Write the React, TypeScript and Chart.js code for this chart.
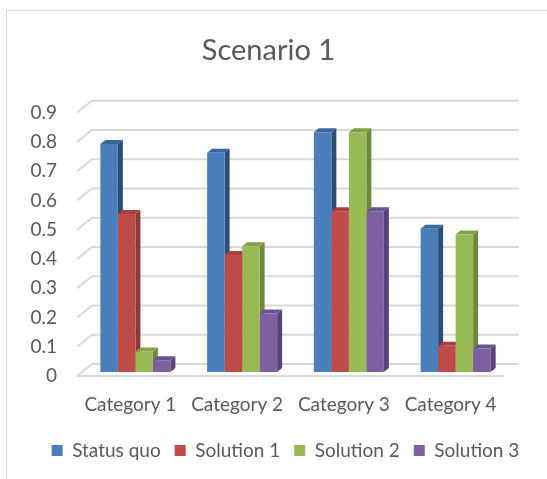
import React, { useEffect, useRef } from "react";
import { Chart, registerables } from "chart.js";

Chart.register(...registerables);

const categories = ["Category 1", "Category 2", "Category 3", "Category 4"];
const seriesNames = ["Status quo", "Solution 1", "Solution 2", "Solution 3"];
const statusQuo = [0.78, 0.75, 0.82, 0.49];
const solution1 = [0.54, 0.40, 0.55, 0.09];
const solution2 = [0.07, 0.43, 0.82, 0.47];
const solution3 = [0.04, 0.20, 0.55, 0.08];
const yTicks = [0, 0.1, 0.2, 0.3, 0.4, 0.5, 0.6, 0.7, 0.8, 0.9];

const frontColors = ["#4a7ebb", "#be4b48", "#98b954", "#7d60a0"];
const sideColors = ["#2c4d75", "#8c3836", "#6d8a3b", "#5a4378"];
const topColors = ["#3a67a0", "#a8403d", "#84a147", "#6b5290"];

const FONT = "Lato, 'Open Sans', sans-serif";
const TEXT = "#595959";
const GRID = "#d9d9d9";
const DX = 5;
const DY = -4;
const LEGEND_SHIFT = 17;

const threeD = {
  id: "threeD",
  afterLayout(chart: any) {
    const lg = chart.legend;
    if (lg) {
      lg.left += LEGEND_SHIFT;
      lg.right += LEGEND_SHIFT;
    }
  },
  beforeDatasetsDraw(chart: any) {
    const { ctx, chartArea, scales } = chart;
    const y = scales.y;
    ctx.save();
    ctx.strokeStyle = GRID;
    ctx.lineWidth = 2;
    yTicks.forEach((t) => {
      const py = y.getPixelForValue(t);
      ctx.beginPath();
      ctx.moveTo(chartArea.left - 5, py + 4);
      ctx.lineTo(chartArea.left + 10, py - 8);
      ctx.lineTo(chartArea.right + 10, py - 8);
      ctx.stroke();
    });
    const p0 = y.getPixelForValue(0);
    ctx.beginPath();
    ctx.moveTo(chartArea.left - 5, p0 + 4);
    ctx.lineTo(chartArea.right - 5, p0 + 4);
    ctx.stroke();
    chart.data.datasets.forEach((ds: any, di: number) => {
      const meta = chart.getDatasetMeta(di);
      meta.data.forEach((bar: any) => {
        const { x, y: top, base, width } = bar.getProps(["x", "y", "base", "width"], true);
        const l = x - width / 2;
        const r = x + width / 2;
        ctx.fillStyle = sideColors[di];
        ctx.beginPath();
        ctx.moveTo(r, base);
        ctx.lineTo(r + DX, base + DY);
        ctx.lineTo(r + DX, top + DY);
        ctx.lineTo(r, top);
        ctx.closePath();
        ctx.fill();
        ctx.fillStyle = topColors[di];
        ctx.beginPath();
        ctx.moveTo(l, top);
        ctx.lineTo(l + DX, top + DY);
        ctx.lineTo(r + DX, top + DY);
        ctx.lineTo(r, top);
        ctx.closePath();
        ctx.fill();
      });
    });
    ctx.restore();
  },
};

export default function App() {
  const ref = useRef<HTMLCanvasElement>(null);
  useEffect(() => {
    if (!ref.current) return;
    const values = [statusQuo, solution1, solution2, solution3];
    const chart = new Chart(ref.current, {
      type: "bar",
      data: {
        labels: categories,
        datasets: seriesNames.map((name, i) => ({
          label: name,
          data: values[i],
          backgroundColor: frontColors[i],
          borderWidth: 0,
          categoryPercentage: 0.656,
          barPercentage: 1.0,
        })),
      },
      options: {
        responsive: false,
        animation: false,
        devicePixelRatio: 1,
        layout: { padding: { left: 10, right: 20, top: 10, bottom: 9 } },
        plugins: {
          tooltip: { enabled: false },
          title: {
            display: true,
            text: "Scenario 1",
            color: TEXT,
            font: { family: FONT, size: 29, weight: "normal" },
            padding: { top: 23, bottom: 41 },
          },
          legend: {
            position: "bottom",
            labels: {
              color: TEXT,
              font: { family: FONT, size: 19 },
              boxWidth: 11,
              boxHeight: 11,
              padding: 14,
            },
          },
        },
        scales: {
          x: {
            afterFit: (s: any) => {
              s.height = 55;
            },
            grid: { display: false, drawTicks: false, tickLength: 0 },
            border: { display: false },
            ticks: {
              color: TEXT,
              font: { family: FONT, size: 19 },
              padding: 21,
              labelOffset: -5,
            },
          },
          y: {
            min: 0,
            max: 0.9,
            afterFit: (s: any) => {
              s.width = 72;
            },
            afterBuildTicks: (s: any) => {
              s.ticks = yTicks.map((v) => ({ value: v }));
            },
            grid: { display: false, drawTicks: false, tickLength: 0 },
            border: { display: false },
            ticks: {
              color: TEXT,
              font: { family: FONT, size: 19 },
              padding: 25,
              labelOffset: 4,
              callback: (v: any) => (v === 0 ? "0" : Number(v).toFixed(1)),
            },
          },
          yRight: {
            position: "right",
            min: 0,
            max: 0.9,
            afterFit: (s: any) => {
              s.width = 18;
            },
            grid: { display: false, drawTicks: false, tickLength: 0 },
            border: { display: false },
            ticks: { display: false },
          },
        },
      },
      plugins: [threeD],
    });
    return () => chart.destroy();
  }, []);
  return (
    <div style={{ position: "fixed", left: 0, top: 0, width: 547, height: 479, background: "#fff" }}>
      <div
        style={{
          position: "absolute",
          left: 6,
          top: 10,
          width: 560,
          height: 500,
          borderLeft: "1px solid #d9d9d9",
          borderTop: "1px solid #d9d9d9",
        }}
      />
      <canvas ref={ref} width={547} height={479} style={{ position: "absolute", left: 0, top: 0 }} />
    </div>
  );
}
